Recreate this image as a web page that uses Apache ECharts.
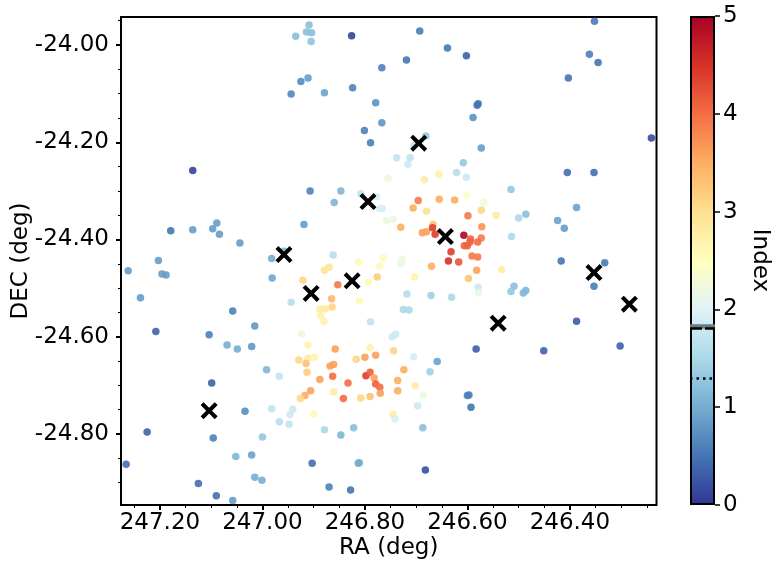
<!DOCTYPE html>
<html>
<head>
<meta charset="utf-8">
<script src="https://cdn.jsdelivr.net/npm/echarts@6/dist/echarts.min.js"></script>
<style>
  html, body { margin: 0; padding: 0; background: #fff; }
  #main { width: 774px; height: 573px; }
</style>
</head>
<body>
<div id="main"></div>
<script>
// sources: RA, DEC (deg) and colour index
const ra = [
  246.909, 246.914, 246.904, 246.935, 246.905, 246.826, 246.767, 246.911, 246.925, 246.944,
  246.879, 246.824, 246.779, 246.767, 246.801, 246.789, 247.136, 246.907, 246.847, 246.860,
  246.808, 246.777, 246.771, 246.766, 246.755, 246.758, 247.179, 247.136, 247.089, 247.097,
  247.084, 247.044, 246.919, 246.982, 246.958, 247.203, 246.862, 246.812, 246.764,
  246.352, 246.693, 246.639, 246.602, 246.719, 246.362, 246.345, 246.403, 246.579, 246.581,
  246.589, 246.241, 246.681, 246.573, 246.704, 246.738, 246.712, 246.716, 246.608, 246.621,
  246.602, 246.656, 246.684, 246.405, 246.353, 246.515, 246.601, 246.568, 246.696, 246.655,
  246.625, 246.706, 246.680, 246.745, 246.573, 246.544, 246.599, 246.387, 246.424, 246.411,
  246.486, 246.500, 246.514, 246.730, 246.667, 246.688, 246.680, 246.668, 246.663, 246.607,
  246.594, 246.595, 246.573, 246.572, 246.606, 246.600, 246.580, 246.632, 246.637, 246.617,
  246.591, 246.580, 246.670, 246.728, 246.730, 246.417, 246.332,
  247.262, 247.196, 247.188, 247.238, 247.208, 247.058, 247.015, 247.104, 247.069, 247.049,
  247.021, 246.981, 246.944, 246.879, 246.870, 246.921, 246.853, 246.771, 246.776, 246.793,
  246.865, 246.864, 246.888, 246.878, 246.887, 246.880, 246.811, 246.789, 246.924, 246.911,
  246.929, 246.911, 246.898, 246.915, 246.913, 246.858, 246.868, 246.861, 246.863, 246.888,
  246.833, 246.906, 246.917, 246.926, 246.861, 246.842, 246.808, 246.790, 246.817, 246.800,
  246.779, 246.790, 246.798, 246.790, 246.782, 246.779, 246.771, 246.770, 246.967, 246.992,
  247.099, 247.034, 246.982, 246.941, 246.946, 246.967, 246.948, 246.900, 246.879, 246.847,
  246.822, 247.225, 247.096, 247.000, 247.266, 247.052, 247.021, 246.903, 246.813, 246.811,
  247.015, 247.001, 247.125, 247.090, 247.058, 246.870, 246.828,
  246.703, 246.582, 246.598, 246.533, 246.579, 246.578, 246.353, 246.509, 246.515, 246.491,
  246.486, 246.718, 246.671, 246.631, 246.725, 246.714, 246.387, 246.583, 246.451, 246.302,
  246.747, 246.740, 246.744, 246.705, 246.659, 246.673, 246.724, 246.736, 246.736, 246.702,
  246.686, 246.697, 246.745, 246.741, 246.687, 246.600, 246.597, 246.593, 246.682
];
const dec = [
  -23.959, -23.973, -23.975, -23.982, -23.993, -23.981, -24.047, -24.068, -24.075, -24.101,
  -24.098, -24.088, -24.119, -24.160, -24.176, -24.201, -24.258, -24.300, -24.300, -24.324,
  -24.306, -24.312, -24.336, -24.336, -24.274, -24.361, -24.382, -24.380, -24.366, -24.378,
  -24.389, -24.407, -24.369, -24.439, -24.424, -24.443, -24.432, -24.446, -24.438,
  -23.951, -23.971, -24.006, -24.022, -24.031, -24.019, -24.036, -24.068, -24.121, -24.124,
  -24.149, -24.191, -24.187, -24.212, -24.206, -24.232, -24.232, -24.245, -24.242, -24.262,
  -24.272, -24.266, -24.277, -24.262, -24.262, -24.297, -24.309, -24.324, -24.320, -24.317,
  -24.319, -24.335, -24.342, -24.359, -24.340, -24.350, -24.351, -24.334, -24.361, -24.377,
  -24.348, -24.356, -24.394, -24.375, -24.369, -24.386, -24.384, -24.376, -24.389, -24.391,
  -24.399, -24.405, -24.397, -24.374, -24.413, -24.413, -24.405, -24.425, -24.444, -24.446,
  -24.434, -24.436, -24.455, -24.440, -24.450, -24.444, -24.448,
  -24.464, -24.471, -24.473, -24.520, -24.589, -24.547, -24.578, -24.596, -24.617, -24.625,
  -24.620, -24.479, -24.529, -24.463, -24.457, -24.484, -24.493, -24.455, -24.477, -24.488,
  -24.522, -24.539, -24.543, -24.543, -24.557, -24.568, -24.526, -24.569, -24.594, -24.617,
  -24.648, -24.644, -24.642, -24.655, -24.673, -24.625, -24.660, -24.657, -24.681, -24.688,
  -24.695, -24.711, -24.721, -24.727, -24.713, -24.727, -24.726, -24.723, -24.646, -24.642,
  -24.638, -24.622, -24.680, -24.673, -24.685, -24.697, -24.704, -24.716, -24.681, -24.668,
  -24.695, -24.753, -24.748, -24.749, -24.760, -24.775, -24.780, -24.759, -24.791, -24.802,
  -24.787, -24.796, -24.808, -24.806, -24.862, -24.846, -24.843, -24.860, -24.860, -24.859,
  -24.889, -24.895, -24.902, -24.927, -24.937, -24.909, -24.915,
  -24.477, -24.463, -24.480, -24.462, -24.498, -24.510, -24.496, -24.496, -24.507, -24.510,
  -24.505, -24.512, -24.515, -24.519, -24.544, -24.545, -24.568, -24.625, -24.629, -24.619,
  -24.600, -24.595, -24.629, -24.641, -24.651, -24.672, -24.668, -24.690, -24.711, -24.701,
  -24.721, -24.742, -24.760, -24.769, -24.787, -24.721, -24.720, -24.745, -24.874
];
const index = [
  1.2, 1.2, 1.2, 1.2, 1.25, 0.1, 0.6, 0.85, 0.7, 0.65,
  0.9, 0.6, 0.75, 0.8, 0.6, 0.6, 0.1, 0.6, 1.1, 1.1,
  1.7, 1.9, 1.9, 1.9, 2.2, 2.2, 0.5, 0.85, 0.85, 0.85,
  0.85, 0.85, 0.85, 1.0, 1.1, 0.85, 1.6, 2.6, 2.6,
  0.55, 0.55, 0.5, 0.35, 0.5, 0.6, 0.5, 0.5, 0.5, 0.5,
  0.75, 0.15, 1.3, 0.85, 1.7, 1.7, 1.7, 1.8, 1.3, 1.6,
  1.8, 2.75, 2.8, 0.45, 0.45, 1.3, 2.4, 2.3, 3.9, 3.5,
  3.5, 3.5, 3.0, 2.2, 3.1, 2.8, 3.9, 0.9, 0.9, 0.85,
  1.2, 1.5, 1.5, 3.5, 3.3, 3.6, 3.6, 4.4, 4.4, 4.95,
  4.1, 4.1, 3.9, 3.7, 4.1, 4.1, 4.0, 4.4, 4.5, 4.2,
  3.9, 3.9, 3.5, 2.2, 2.2, 0.5, 0.55,
  0.85, 0.85, 0.85, 0.85, 0.35, 0.6, 0.8, 0.6, 1.0, 1.0,
  0.8, 0.95, 1.6, 2.9, 2.9, 3.1, 3.9, 2.6, 3.2, 2.6,
  3.4, 3.1, 2.8, 2.8, 2.7, 2.7, 2.6, 1.7, 2.2, 2.7,
  3.1, 2.8, 2.7, 3.3, 3.2, 3.6, 3.6, 3.6, 4.0, 3.6,
  4.0, 3.6, 3.5, 3.1, 2.8, 4.0, 3.1, 3.3, 3.1, 3.6,
  3.6, 2.7, 4.4, 4.1, 3.6, 4.1, 4.0, 3.6, 1.7, 1.1,
  0.35, 0.7, 1.7, 1.8, 1.8, 1.6, 1.7, 2.6, 1.5, 1.1,
  1.2, 0.35, 0.6, 1.3, 0.45, 1.1, 0.9, 0.45, 1.0, 1.0,
  1.0, 1.0, 0.45, 0.45, 0.85, 0.6, 0.5,
  2.7, 3.6, 3.3, 2.8, 1.8, 2.2, 0.55, 1.2, 1.3, 1.1,
  1.1, 1.6, 1.4, 1.5, 1.5, 1.5, 0.3, 0.3, 0.35, 0.35,
  1.8, 1.8, 3.1, 1.9, 0.9, 1.4, 3.5, 3.5, 3.5, 2.8,
  2.2, 1.8, 2.8, 1.9, 1.2, 0.6, 0.6, 0.5, 0.2
];

// cross markers
const crossRa  = [246.695, 246.794, 246.643, 246.958, 246.825, 246.905, 246.353, 246.284, 246.540, 247.104];
const crossDec = [-24.202, -24.322, -24.394, -24.431, -24.485, -24.511, -24.468, -24.533, -24.572, -24.752];

// axes
const raTicks  = [247.2, 247.0, 246.8, 246.6, 246.4];
const raMinor  = [247.25, 247.15, 247.1, 247.05, 246.95, 246.9, 246.85, 246.75, 246.7, 246.65, 246.55, 246.5, 246.45, 246.35, 246.3, 246.25];
const decTicks = [-24.8, -24.6, -24.4, -24.2, -24.0];
const decMinor = [-24.9, -24.85, -24.75, -24.7, -24.65, -24.55, -24.5, -24.45, -24.35, -24.3, -24.25, -24.15, -24.1, -24.05, -23.95];
const cbarTicks = [0, 1, 2, 3, 4, 5];

// colorbar reference levels
const levelGrey = 1.835;
const levelDash = 1.807;
const levelDot  = 1.296;

const RdYlBu_r = ['#313695', '#4575b4', '#74add1', '#abd9e9', '#e0f3f8', '#ffffbf',
                  '#fee090', '#fdae61', '#f46d43', '#d73027', '#a50026'];

const FONT = 'DejaVu Sans';
const FS = 23;

let chart = echarts.init(document.getElementById('main'));

const points = ra.map((r, i) => [r, dec[i], index[i]]);
const crosses = crossRa.map((r, i) => [r, crossDec[i]]);

const crossPath = 'path://M0,3.4 L3.4,0 L10,6.6 L16.6,0 L20,3.4 L13.4,10 L20,16.6 L16.6,20 L10,13.4 L3.4,20 L0,16.6 L6.6,10 Z';

const tickLabel = v => v.toFixed(2);

let option = {
  animation: false,
  backgroundColor: '#fff',
  textStyle: { fontFamily: FONT },
  grid: [
    { left: 121, right: 117.5, top: 17, bottom: 68, show: true, borderColor: '#000', borderWidth: 2,
      backgroundColor: 'transparent', outerBoundsMode: 'none', containLabel: false },
    { left: 690, width: 25, top: 16, bottom: 68, outerBoundsMode: 'none', containLabel: false }
  ],
  visualMap: {
    show: false,
    type: 'continuous',
    min: 0,
    max: 5,
    dimension: 2,
    seriesIndex: 0,
    inRange: { color: RdYlBu_r }
  },
  xAxis: [
    {
      type: 'value', gridIndex: 0, min: 246.231, max: 247.276, inverse: true,
      axisLine: { show: false },
      axisTick: { show: true, customValues: raTicks, length: 5, lineStyle: { color: '#000', width: 2 } },
      axisLabel: { customValues: raTicks, formatter: tickLabel, fontSize: FS, color: '#000', margin: 7, fontFamily: FONT },
      splitLine: { show: false },
      name: 'RA (deg)', nameLocation: 'middle', nameGap: 32, nameMoveOverlap: false,
      nameTextStyle: { fontSize: FS, color: '#000', fontFamily: FONT }
    },
    {
      type: 'value', gridIndex: 0, min: 246.231, max: 247.276, inverse: true, position: 'bottom',
      axisLine: { show: false },
      axisTick: { show: true, customValues: raMinor, length: 3, lineStyle: { color: '#000', width: 1 } },
      axisLabel: { show: false },
      splitLine: { show: false }
    },
    {
      type: 'category', gridIndex: 1, data: ['c'], show: false
    }
  ],
  yAxis: [
    {
      type: 'value', gridIndex: 0, min: -24.946, max: -23.9424,
      axisLine: { show: false },
      axisTick: { show: true, customValues: decTicks, length: 5, lineStyle: { color: '#000', width: 2 } },
      axisLabel: { customValues: decTicks, formatter: tickLabel, fontSize: FS, color: '#000', margin: 12, fontFamily: FONT },
      splitLine: { show: false },
      name: 'DEC (deg)', nameLocation: 'middle', nameGap: 88, nameRotate: 90, nameMoveOverlap: false,
      nameTextStyle: { fontSize: FS, color: '#000', fontFamily: FONT }
    },
    {
      type: 'value', gridIndex: 0, min: -24.946, max: -23.9424, position: 'left',
      axisLine: { show: false },
      axisTick: { show: true, customValues: decMinor, length: 3, lineStyle: { color: '#000', width: 1 } },
      axisLabel: { show: false },
      splitLine: { show: false }
    },
    {
      type: 'value', gridIndex: 1, min: 0, max: 5, position: 'right',
      axisLine: { show: false },
      axisTick: { show: true, customValues: cbarTicks, length: 5, lineStyle: { color: '#000', width: 1.5 } },
      axisLabel: { customValues: cbarTicks, fontSize: FS, color: '#000', margin: 8, fontFamily: FONT },
      splitLine: { show: false },
      name: 'Index', nameLocation: 'middle', nameGap: 33, nameRotate: -90, nameMoveOverlap: false,
      nameTextStyle: { fontSize: FS, color: '#000', fontFamily: FONT }
    }
  ],
  series: [
    {
      type: 'scatter',
      xAxisIndex: 0, yAxisIndex: 0,
      data: points,
      symbolSize: 7.5,
      itemStyle: { opacity: 0.9 },
      z: 2
    },
    {
      type: 'scatter',
      xAxisIndex: 0, yAxisIndex: 0,
      data: crosses,
      symbol: crossPath,
      symbolSize: 17,
      itemStyle: { color: '#000', opacity: 1 },
      z: 3
    },
    {
      type: 'bar',
      xAxisIndex: 2, yAxisIndex: 2,
      data: [5],
      barWidth: '100%',
      itemStyle: {
        color: new echarts.graphic.LinearGradient(0, 1, 0, 0,
          RdYlBu_r.map((c, i) => ({ offset: i / (RdYlBu_r.length - 1), color: c }))),
        borderColor: '#000',
        borderWidth: 2
      },
      markLine: {
        silent: true,
        symbol: ['none', 'none'],
        label: { show: false },
        data: [
          { yAxis: levelGrey, lineStyle: { color: '#6b7a7e', width: 4.5, type: 'solid' } },
          { yAxis: levelDash, lineStyle: { color: '#000', width: 2.5, type: [12, 3] } },
          { yAxis: levelDot, lineStyle: { color: '#000', width: 2.5, type: [2.5, 4] } }
        ]
      }
    }
  ]
};

chart && chart.setOption(option);
</script>
</body>
</html>
